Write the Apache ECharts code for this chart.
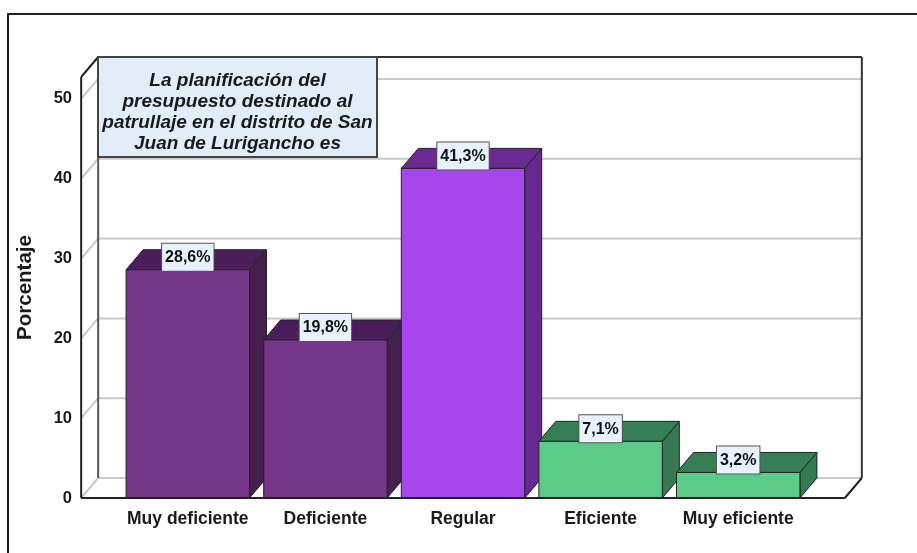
<!DOCTYPE html>
<html><head><meta charset="utf-8">
<script src="https://cdn.jsdelivr.net/npm/echarts@6/dist/echarts.min.js"></script>
<style>html,body{margin:0;padding:0;background:#fff}#c{width:917px;height:553px}</style>
</head><body><div id="c"></div>
<script>
const categories = ['Muy deficiente', 'Deficiente', 'Regular', 'Eficiente', 'Muy eficiente'];
const values = [28.6, 19.8, 41.3, 7.1, 3.2];
const valueLabels = ['28,6%', '19,8%', '41,3%', '7,1%', '3,2%'];
const yTicks = [0, 10, 20, 30, 40, 50];
const yName = 'Porcentaje';
const titleLines = ['La planificación del', 'presupuesto destinado al', 'patrullaje en el distrito de San', 'Juan de Lurigancho es'];
const frontColors = ['#76368A', '#76368A', '#A846EE', '#5CCB8A', '#5CCB8A'];
const topColors = ['#4A1F59', '#4A1F59', '#6A2A92', '#367E54', '#367E54'];
const sideColors = ['#45204F', '#45204F', '#662990', '#357A50', '#357A50'];

const DX = 17, DY = -20;
const AXIS_MAX = 52.75;
const FONT = 'Liberation Sans, Arial, sans-serif';

function frameExtents(api) {
  const band = api.size([1, 0])[0];
  const xl = api.coord([0, 0])[0] - band * 0.5 - band * 0.275;
  const xr = api.coord([categories.length - 1, 0])[0] + band * 0.5 + band * 0.275;
  const y0 = api.coord([0, 0])[1];
  const yT = api.coord([0, AXIS_MAX])[1];
  return { xl, xr, y0, yT };
}
function line(x1, y1, x2, y2, color, w) {
  return { type: 'line', shape: { x1, y1, x2, y2 }, style: { stroke: color, lineWidth: w } };
}

const backFrame = {
  type: 'custom', z: 1, silent: true, data: [[0, 0]],
  renderItem: function (params, api) {
    const f = frameExtents(api);
    const ch = [];
    yTicks.forEach(function (v) {
      const y = api.coord([0, v])[1];
      ch.push(line(f.xl + DX, y + DY, f.xr + DX, y + DY, '#C9C9C9', 2));
      ch.push(line(f.xl, y, f.xl + DX, y + DY, '#C9C9C9', 2));
    });
    ch.push(line(f.xl + DX, f.yT + DY, f.xl + DX, f.y0 + DY, '#555', 2));
    ch.push(line(f.xl + DX, f.yT + DY, f.xr + DX, f.yT + DY, '#333', 2));
    ch.push(line(f.xr + DX, f.yT + DY, f.xr + DX, f.y0 + DY, '#333', 2));
    return { type: 'group', children: ch };
  }
};
const frontFrame = {
  type: 'custom', z: 3, silent: true, data: [[0, 0]],
  renderItem: function (params, api) {
    const f = frameExtents(api);
    return { type: 'group', children: [
      line(f.xl, f.y0, f.xl, f.yT, '#222', 2),
      line(f.xl, f.yT, f.xl + DX, f.yT + DY, '#222', 2),
      line(f.xl, f.y0, f.xr, f.y0, '#222', 2),
      line(f.xr, f.y0, f.xr + DX, f.y0 + DY, '#222', 2)
    ] };
  }
};

const bars = {
  type: 'custom', z: 2, silent: true,
  data: values.map(function (v, i) { return [i, v]; }),
  renderItem: function (params, api) {
    const i = api.value(0), v = api.value(1);
    const c = api.coord([i, v]);
    const b = api.coord([i, 0]);
    const w = api.size([1, 0])[0] * 0.897;
    const xL = c[0] - w / 2, xR = c[0] + w / 2, yT = c[1], yB = b[1];
    const k = params.dataIndex;
    return { type: 'group', children: [
      { type: 'polygon', shape: { points: [[xR, yT], [xR + DX, yT + DY], [xR + DX, yB + DY], [xR, yB]] },
        style: { fill: sideColors[k], stroke: '#222', lineWidth: 1 } },
      { type: 'polygon', shape: { points: [[xL, yT], [xL + DX, yT + DY], [xR + DX, yT + DY], [xR, yT]] },
        style: { fill: topColors[k], stroke: '#222', lineWidth: 1 } },
      { type: 'rect', shape: { x: xL, y: yT, width: w, height: yB - yT },
        style: { fill: frontColors[k], stroke: '#222', lineWidth: 1 } },
      { type: 'text', x: c[0], y: yT + 1,
        style: { text: valueLabels[k], fill: '#111', font: 'bold 16px ' + FONT,
          align: 'center', verticalAlign: 'bottom', backgroundColor: '#E8F2FC',
          borderColor: '#555', borderWidth: 1, padding: [6, 3, 5, 3] } }
    ] };
  }
};

const chart = echarts.init(document.getElementById('c'));
chart.setOption({
  animation: false,
  backgroundColor: '#fff',
  grid: { left: 119, right: 110, top: 77, bottom: 55 },
  xAxis: {
    type: 'category', data: categories,
    axisLine: { show: false }, axisTick: { show: false }, splitLine: { show: false },
    axisLabel: { margin: 12, fontSize: 17.5, fontWeight: 'bold', color: '#1a1a1a', fontFamily: FONT, interval: 0 }
  },
  yAxis: {
    type: 'value', min: 0, max: AXIS_MAX, interval: 10, offset: 38,
    name: yName, nameLocation: 'middle', nameRotate: 90, nameGap: 45,
    nameTextStyle: { fontSize: 20.5, fontWeight: 'bold', color: '#1a1a1a', fontFamily: FONT },
    axisLine: { show: false }, axisTick: { show: false }, splitLine: { show: false },
    axisLabel: { margin: 9, fontSize: 16.5, fontWeight: 'bold', color: '#1a1a1a', fontFamily: FONT, showMaxLabel: false }
  },
  graphic: [
    { type: 'rect', silent: true, z: 0, shape: { x: 8, y: 14, width: 1000, height: 1000 },
      style: { fill: 'none', stroke: '#222', lineWidth: 2 } },
    { type: 'rect', silent: true, z: 100, zlevel: 1, shape: { x: 98, y: 57, width: 279, height: 100 },
      style: { fill: '#E1EEFA', stroke: '#444', lineWidth: 2 } },
    { type: 'text', silent: true, z: 101, zlevel: 1, x: 237.5, y: 112,
      style: { text: titleLines.join('\n'), font: 'italic bold 19px ' + FONT, fill: '#1a1a1a',
        align: 'center', verticalAlign: 'middle', lineHeight: 21 } }
  ],
  series: [backFrame, bars, frontFrame]
});
</script></body></html>
